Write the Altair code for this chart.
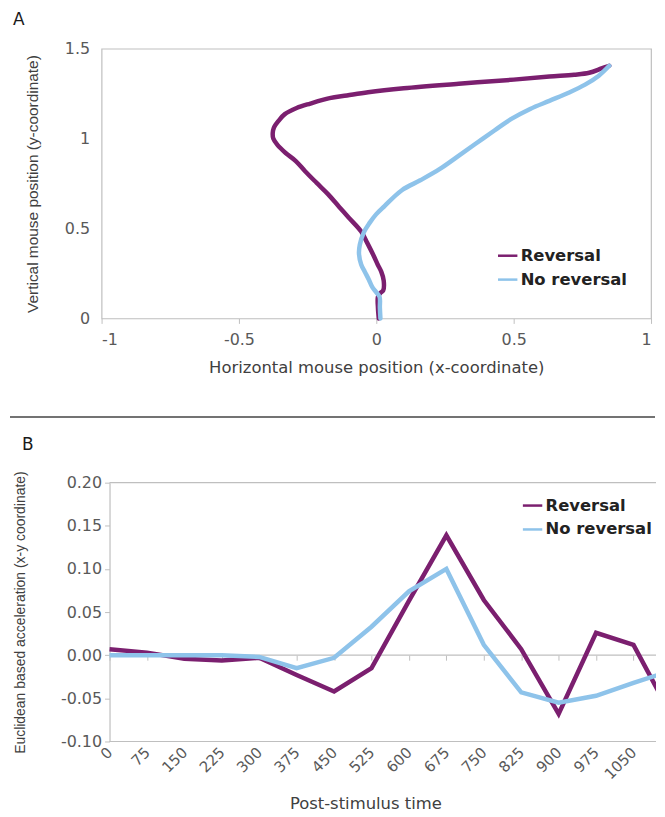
import altair as alt
import pandas as pd

# ---------------- Panel A: mean mouse trajectories ----------------
rev_x = [0.009, 0.006, 0.006, 0.014, 0.025, 0.027, 0.018, 0.005, -0.010, -0.033, -0.055,
         -0.100, -0.135, -0.175, -0.218, -0.260, -0.293, -0.330, -0.360, -0.375, -0.377,
         -0.373, -0.355, -0.333, -0.290, -0.240, -0.170, -0.107, -0.030, 0.100, 0.300,
         0.500, 0.630, 0.720, 0.775, 0.820, 0.848]
rev_y = [0.000, 0.060, 0.120, 0.140, 0.155, 0.210, 0.260, 0.300, 0.350, 0.420, 0.483,
         0.560, 0.620, 0.690, 0.755, 0.820, 0.875, 0.920, 0.965, 1.000, 1.030,
         1.060, 1.100, 1.136, 1.170, 1.195, 1.225, 1.240, 1.258, 1.280, 1.305,
         1.328, 1.345, 1.355, 1.366, 1.390, 1.405]

norev_x = [0.015, 0.013, 0.012, 0.000, -0.015, -0.027, -0.042, -0.055, -0.063, -0.060,
           -0.045, -0.025, 0.000, 0.030, 0.093, 0.160, 0.230, 0.293, 0.360, 0.430,
           0.490, 0.560, 0.630, 0.700, 0.760, 0.810, 0.848]
norev_y = [0.000, 0.060, 0.120, 0.145, 0.175, 0.215, 0.260, 0.300, 0.360, 0.410,
           0.480, 0.530, 0.580, 0.625, 0.713, 0.768, 0.830, 0.897, 0.970, 1.045,
           1.108, 1.165, 1.210, 1.255, 1.300, 1.350, 1.405]

# ---------------- Panel B: acceleration over time ----------------
times = [0, 75, 150, 225, 300, 375, 450, 525, 600, 675, 750, 825, 900, 975, 1050, 1125]
rev_acc = [0.007, 0.003, -0.004, -0.006, -0.003, -0.023, -0.042, -0.015, 0.063, 0.139,
           0.064, 0.007, -0.068, 0.026, 0.012, -0.069]
norev_acc = [0.000, 0.000, 0.000, 0.000, -0.002, -0.015, -0.003, 0.033, 0.074, 0.100,
             0.012, -0.043, -0.055, -0.047, -0.032, -0.018]
tick_times = [0, 75, 150, 225, 300, 375, 450, 525, 600, 675, 750, 825, 900, 975, 1050]
yB_ticks = [-0.1, -0.05, 0, 0.05, 0.1, 0.15, 0.2]
yB_frame = [-0.1, 0.0, 0.2]      # bottom border, zero line, top border of panel B

series_names = ["Reversal", "No reversal"]
colors = ["#7B1F6F", "#8EC3EA"]

HFONT = "DejaVu Sans"
VFONT = "Liberation Sans"
LABEL_C = "#595959"
TITLE_C = "#404040"
GRID_C = "#BFBFBF"

dfA = pd.concat([
    pd.DataFrame({"x": rev_x, "y": rev_y, "i": range(len(rev_x)), "series": "Reversal"}),
    pd.DataFrame({"x": norev_x, "y": norev_y, "i": range(len(norev_x)), "series": "No reversal"}),
])
dfB = pd.concat([
    pd.DataFrame({"t": times, "v": rev_acc, "series": "Reversal"}),
    pd.DataFrame({"t": times, "v": norev_acc, "series": "No reversal"}),
])
dfF = pd.DataFrame({"v": yB_frame, "t0": 0, "t1": 1095.1})
one = pd.DataFrame({"a": [0]})


def legend(x, y):
    return alt.Legend(title=None, orient="none", legendX=x, legendY=y,
                      symbolType="stroke", symbolSize=380, symbolStrokeWidth=2.5,
                      labelFont=HFONT, labelFontSize=16.5, labelFontWeight="bold",
                      labelColor="#222222", labelOffset=2, rowPadding=4)


color_scale = alt.Scale(domain=series_names, range=colors)

# ---- Panel A ----
xA = alt.X("x:Q", scale=alt.Scale(domain=[-1, 1], nice=False),
           axis=alt.Axis(values=[-1, -0.5, 0, 0.5, 1], format="~g", grid=False, domain=False,
                         ticks=True, tickSize=5, tickColor=GRID_C,
                         labelFont=HFONT, labelFontSize=16, labelColor=LABEL_C, labelPadding=8,
                         labelExpr="replace(datum.label, '\u2212', '-')",
                         title="Horizontal mouse position (x-coordinate)",
                         titleFont=HFONT, titleFontSize=16.5, titleFontWeight="normal",
                         titleColor=TITLE_C, titlePadding=12))
yA = alt.Y("y:Q", scale=alt.Scale(domain=[0, 1.5], nice=False),
           axis=alt.Axis(values=[0, 0.5, 1, 1.5], format="~g", grid=False, domain=False,
                         ticks=False, labelFont=HFONT, labelFontSize=16, labelColor=LABEL_C,
                         labelPadding=12,
                         title="Vertical mouse position (y-coordinate)",
                         titleFont=VFONT, titleFontSize=15.5, titleFontWeight="normal",
                         titleColor=TITLE_C, titlePadding=24))

linesA = alt.Chart(dfA).mark_line(strokeWidth=4.5, strokeJoin="round", strokeCap="round",
                                  interpolate="catmull-rom").encode(
    x=xA, y=yA,
    color=alt.Color("series:N", scale=color_scale, legend=legend(397, 197)),
    order="i:Q",
)
sepA = alt.Chart(one).mark_rule(color="#444444", strokeWidth=1.5).encode(
    x=alt.value(-92), x2=alt.value(556), y=alt.value(370))

panelA = alt.layer(sepA, linesA).properties(
    width=552, height=271,
    title=alt.TitleParams("A", anchor="start", frame="group", dx=-89,
                          font=HFONT, fontSize=17, fontWeight="normal", color="#1a1a1a",
                          offset=12),
)

# ---- Panel B ----
xsB = alt.Scale(domain=[-15.96, 1095.1], nice=False)
ysB = alt.Scale(domain=[-0.1, 0.2], nice=False)
yB_axis = alt.Axis(values=yB_ticks, format=".2f", grid=False, offset=-8,
                   domain=True, domainColor=GRID_C, domainWidth=1.2,
                   ticks=True, tickSize=5, tickColor=GRID_C,
                   labelFont=HFONT, labelFontSize=16, labelColor=LABEL_C, labelPadding=3,
                   labelExpr="replace(datum.label, '\u2212', '-')",
                   title="Euclidean based acceleration (x-y coordinate)",
                   titleFont=VFONT, titleFontSize=14, titleFontWeight="normal",
                   titleColor=TITLE_C, titlePadding=33)

frameB = alt.Chart(dfF).mark_rule(color=GRID_C, strokeWidth=1.2).encode(
    x=alt.X("t0:Q", scale=xsB,
            axis=alt.Axis(values=tick_times, orient="bottom", grid=False, labels=False,
                          title=None, domain=False,
                          ticks=True, tickSize=5, tickColor=GRID_C, offset=-86.67)),
    x2="t1:Q",
    y=alt.Y("v:Q", scale=ysB, axis=yB_axis),
)

linesB = alt.Chart(dfB).mark_line(strokeWidth=4.5, strokeJoin="miter", clip=True).encode(
    x=alt.X("t:Q", scale=xsB,
            axis=alt.Axis(values=tick_times, format="d", orient="bottom", grid=False,
                          domain=False, ticks=False,
                          labelAngle=-45, labelAlign="right", labelBaseline="middle",
                          labelFont=HFONT, labelFontSize=15, labelColor=LABEL_C,
                          labelPadding=8, labelOverlap=False,
                          title="Post-stimulus time", titleFont=HFONT, titleFontSize=16.5,
                          titleFontWeight="normal", titleColor=TITLE_C, titlePadding=14,
                          titleX=265, titleAnchor="middle", titleAlign="center")),
    y=alt.Y("v:Q", scale=ysB, axis=yB_axis),
    color=alt.Color("series:N", scale=color_scale, legend=legend(422, 12)),
    order=alt.Order("series:N", sort="ascending"),
)

panelB = alt.layer(frameB, linesB).resolve_axis(x="independent").properties(
    width=557, height=260,
    view=alt.ViewBackground(strokeOpacity=0),
    title=alt.TitleParams("B", anchor="start", frame="group", dx=-80,
                          font=HFONT, fontSize=17, fontWeight="normal", color="#1a1a1a",
                          offset=17),
)

chart = alt.concat(panelA, panelB, columns=1, align="none", spacing=16).resolve_scale(
    color="independent").resolve_legend(color="independent").configure(
    padding=0).configure_view(stroke=GRID_C, strokeWidth=1.2)

chart.save("out.html", embed_options={"renderer": "svg", "actions": False})
